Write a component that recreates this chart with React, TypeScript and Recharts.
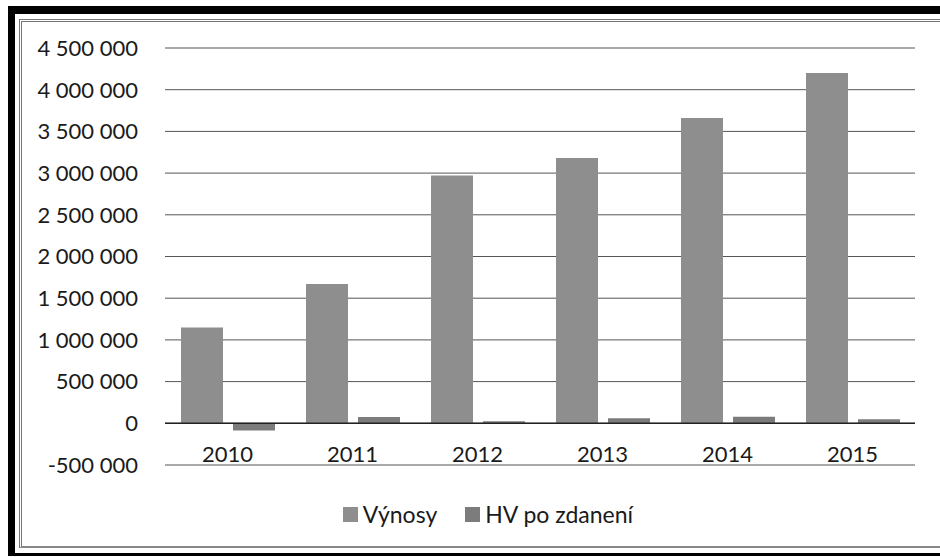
import React from "react";
import {
  BarChart,
  Bar,
  XAxis,
  YAxis,
  CartesianGrid,
  ReferenceLine,
} from "recharts";

const years = ["2010", "2011", "2012", "2013", "2014", "2015"];
const vynosy = [1150000, 1670000, 2970000, 3180000, 3660000, 4200000];
const hvPoZdaneni = [-85000, 75000, 25000, 60000, 80000, 50000];
const yTicks = [-500000, 0, 500000, 1000000, 1500000, 2000000, 2500000, 3000000, 3500000, 4000000, 4500000];
const seriesNames = ["Výnosy", "HV po zdanení"];

const data = years.map((year, i) => ({
  year,
  vynosy: vynosy[i],
  hv: hvPoZdaneni[i],
}));

const FONT = "Lato, 'Open Sans', sans-serif";
const TEXT = "#1a1a1a";
const COLORS = { vynosy: "#8e8e8e", hv: "#7c7c7c" };

const fmt = (v: number) => {
  const s = Math.abs(v).toString().replace(/\B(?=(\d{3})+(?!\d))/g, " ");
  return v < 0 ? "-" + s : s;
};

const YearTick = (props: any) => {
  const { x, y, payload } = props;
  return (
    <text x={x} y={y - 3} textAnchor="middle" fill={TEXT} fontSize={22} fontFamily={FONT}>
      {payload.value}
    </text>
  );
};

export default function App() {
  return (
    <div style={{ position: "absolute", left: 0, top: 0, width: 940, height: 557, overflow: "hidden", background: "#fff" }}>
      <div
        style={{
          position: "absolute",
          left: 8,
          top: 6,
          width: 960,
          height: 539,
          borderLeft: "7px solid #000",
          borderTop: "8px solid #000",
          borderBottom: "3px solid #000",
        }}
      />
      <div
        style={{
          position: "absolute",
          left: 19,
          top: 19,
          width: 960,
          height: 524,
          borderLeft: "3px double #777",
          borderTop: "3px double #777",
          borderBottom: "2px solid #888",
        }}
      />
      <div style={{ position: "absolute", left: 0, top: 0 }}>
        <BarChart
          width={940}
          height={557}
          data={data}
          margin={{ top: 48, right: 25, bottom: 62, left: 0 }}
          barCategoryGap={16}
          barGap={10}
        >
          <CartesianGrid vertical={false} stroke="#555" strokeWidth={1} />
          <XAxis
            dataKey="year"
            height={30}
            axisLine={false}
            tickLine={false}
            tickSize={0}
            tickMargin={0}
            tick={<YearTick />}
            interval={0}
          />
          <YAxis
            width={165}
            domain={[-500000, 4500000]}
            ticks={yTicks}
            tickFormatter={fmt}
            axisLine={false}
            tickLine={false}
            tickSize={6}
            tickMargin={21}
            tick={{ fill: TEXT, fontSize: 22, fontFamily: FONT }}
            interval={0}
          />
          <ReferenceLine y={0} stroke="#222" strokeWidth={1.5} />
          <Bar dataKey="vynosy" name={seriesNames[0]} fill={COLORS.vynosy} isAnimationActive={false} />
          <Bar dataKey="hv" name={seriesNames[1]} fill={COLORS.hv} isAnimationActive={false} />
        </BarChart>
      </div>
      <div
        style={{
          position: "absolute",
          left: 18,
          top: 499,
          width: 940,
          display: "flex",
          justifyContent: "center",
          alignItems: "center",
          fontFamily: FONT,
          fontSize: 23,
          color: TEXT,
          lineHeight: "30px",
        }}
      >
        {seriesNames.map((name, i) => (
          <div key={name} style={{ display: "flex", alignItems: "center", marginLeft: i === 0 ? 0 : 28 }}>
            <span
              style={{
                display: "inline-block",
                width: 15,
                height: 15,
                background: i === 0 ? COLORS.vynosy : COLORS.hv,
                marginRight: 5,
              }}
            />
            <span>{name}</span>
          </div>
        ))}
      </div>
    </div>
  );
}
